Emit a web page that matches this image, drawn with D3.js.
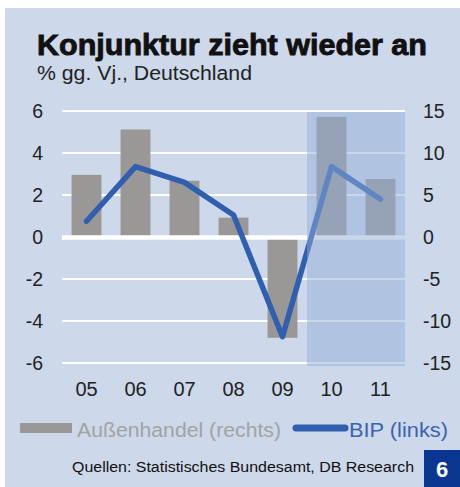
<!DOCTYPE html>
<html>
<head>
  <title>Konjunktur zieht wieder an</title>
  <style>
    body { margin: 0; background: white; }
    svg { display: block; font-family: "Liberation Sans", Arial, sans-serif; }
  </style>
</head>
<body>
  <svg width="460" height="487"></svg>

  <script src="https://d3js.org/d3.v7.min.js"></script>
  <script>
    // data
    const years = ["05", "06", "07", "08", "09", "10", "11"];
    const aussenhandel = [7.4, 12.8, 6.7, 2.3, -12.0, 14.3, 6.9];   // right axis
    const bip = [0.75, 3.35, 2.6, 1.05, -4.75, 3.35, 1.8];           // left axis
    const forecastYears = ["10", "11"];
    const leftTicks = [-6, -4, -2, 0, 2, 4, 6];
    const rightTicks = [-15, -10, -5, 0, 5, 10, 15];

    const svg = d3.select("svg");
    const bg = "#cdd8ea";
    const barColor = "#9a9896";
    const lineColor = "#2f5fae";

    // panel
    svg.append("rect").attr("x", 5).attr("y", 8).attr("width", 455).attr("height", 479).attr("fill", bg);

    svg.append("text")
      .attr("x", 37).attr("y", 55)
      .attr("font-size", 30).attr("font-weight", "bold")
      .attr("fill", "#111").attr("stroke", "#111").attr("stroke-width", 0.9)
      .attr("textLength", 390).attr("lengthAdjust", "spacingAndGlyphs")
      .text("Konjunktur zieht wieder an");

    svg.append("text")
      .attr("x", 37).attr("y", 80)
      .attr("font-size", 20).attr("fill", "#222")
      .attr("textLength", 215).attr("lengthAdjust", "spacingAndGlyphs")
      .text("% gg. Vj., Deutschland");

    const x = d3.scaleBand().domain(years).range([62, 405]).paddingInner(0.39).paddingOuter(0.195);
    const yL = d3.scaleLinear().domain([-6, 6]).range([363, 111]);
    const yR = d3.scaleLinear().domain([-15, 15]).range([363, 111]);

    // gridlines
    svg.append("g").selectAll("line")
      .data(leftTicks.filter(d => d !== 0))
      .join("line")
      .attr("x1", 62).attr("x2", 405)
      .attr("y1", d => yL(d)).attr("y2", d => yL(d))
      .attr("stroke", "white").attr("stroke-width", 2);

    // bars (right axis)
    svg.append("g").selectAll("rect")
      .data(aussenhandel)
      .join("rect")
      .attr("x", (d, i) => x(years[i]))
      .attr("width", x.bandwidth())
      .attr("y", d => yR(Math.max(0, d)))
      .attr("height", d => Math.abs(yR(d) - yR(0)))
      .attr("fill", barColor);

    // zero line
    svg.append("line")
      .attr("x1", 62).attr("x2", 405)
      .attr("y1", yL(0) + 0.5).attr("y2", yL(0) + 0.5)
      .attr("stroke", "white").attr("stroke-width", 4.5);

    // BIP line (left axis)
    const line = d3.line()
      .x((d, i) => x(years[i]) + x.bandwidth() / 2)
      .y(d => yL(d));

    svg.append("path")
      .datum(bip)
      .attr("d", line)
      .attr("fill", "none")
      .attr("stroke", lineColor)
      .attr("stroke-width", 5.5)
      .attr("stroke-linecap", "round")
      .attr("stroke-linejoin", "round");

    // forecast shading on top
    const fx0 = x(forecastYears[0]) - x.step() * x.paddingInner() / 2;
    svg.append("rect")
      .attr("x", fx0)
      .attr("y", yL(6) + 1)
      .attr("width", 405 - fx0)
      .attr("height", yL(-6) - yL(6) + 2)
      .attr("fill", "rgb(146,173,214)")
      .attr("fill-opacity", 0.49);

    // left axis labels
    svg.append("g").selectAll("text")
      .data(leftTicks)
      .join("text")
      .attr("x", 43).attr("y", d => yL(d))
      .attr("dy", "0.35em")
      .attr("text-anchor", "end")
      .attr("font-size", 19.5).attr("fill", "#222")
      .text(d => d);

    // right axis labels
    svg.append("g").selectAll("text")
      .data(rightTicks)
      .join("text")
      .attr("x", 423).attr("y", d => yR(d))
      .attr("dy", "0.35em")
      .attr("font-size", 19.5).attr("fill", "#222")
      .text(d => d);

    // x labels
    svg.append("g").selectAll("text")
      .data(years)
      .join("text")
      .attr("x", d => x(d) + x.bandwidth() / 2).attr("y", 396)
      .attr("text-anchor", "middle")
      .attr("font-size", 20).attr("fill", "#222")
      .text(d => d);

    // legend
    svg.append("rect").attr("x", 20).attr("y", 423).attr("width", 52).attr("height", 10).attr("fill", barColor);
    svg.append("text").attr("x", 77).attr("y", 437)
      .attr("font-size", 20.5).attr("fill", "#a3a3a3")
      .attr("textLength", 204).attr("lengthAdjust", "spacingAndGlyphs")
      .text("Außenhandel (rechts)");
    svg.append("line").attr("x1", 296).attr("x2", 345).attr("y1", 428).attr("y2", 428)
      .attr("stroke", lineColor).attr("stroke-width", 7).attr("stroke-linecap", "round");
    svg.append("text").attr("x", 349).attr("y", 437)
      .attr("font-size", 20.5).attr("fill", "#3a64b0")
      .attr("textLength", 99).attr("lengthAdjust", "spacingAndGlyphs")
      .text("BIP (links)");

    // source
    svg.append("text").attr("x", 72).attr("y", 472)
      .attr("font-size", 15.5).attr("fill", "#111")
      .attr("textLength", 342).attr("lengthAdjust", "spacingAndGlyphs")
      .text("Quellen: Statistisches Bundesamt, DB Research");

    svg.append("rect").attr("x", 424).attr("y", 450).attr("width", 36).attr("height", 37).attr("fill", "#0a3591");
    svg.append("text").attr("x", 442).attr("y", 477)
      .attr("text-anchor", "middle")
      .attr("font-size", 22).attr("font-weight", "bold").attr("fill", "white")
      .text("6");
  </script>
</body>
</html>
